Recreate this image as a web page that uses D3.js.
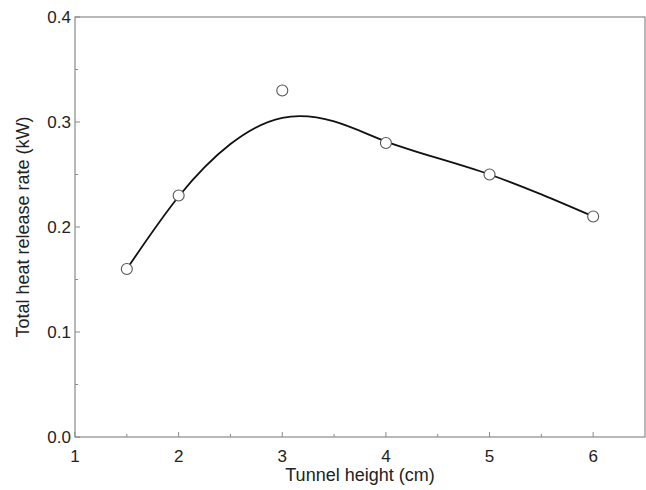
<!DOCTYPE html>
<html>
<head>
<meta charset="utf-8">
<script src="https://cdn.jsdelivr.net/npm/d3@7"></script>
<style>
  body { margin: 0; background: #fff; }
  svg { font-family: "Liberation Sans", Arial, sans-serif; }
</style>
</head>
<body>
<svg id="chart" width="646" height="490"></svg>
<script>
// measured points
const heights = [1.5, 2, 3, 4, 5, 6];
const hrr = [0.16, 0.23, 0.33, 0.28, 0.25, 0.21];

// fitted curve
const fitX = [1.5, 2.0, 2.5, 3.0, 3.5, 4.0, 4.5, 5.0, 5.5, 6.0];
const fitY = [0.160, 0.229, 0.279, 0.304, 0.3005, 0.2815, 0.2655, 0.250, 0.231, 0.210];

const xTicks = [1, 2, 3, 4, 5, 6];
const yTicks = [0.0, 0.1, 0.2, 0.3, 0.4];

const svg = d3.select('#chart');
const m = { left: 75, right: 645, top: 17, bottom: 437 };

const x = d3.scaleLinear().domain([1, 6.5]).range([m.left, m.right]);
const y = d3.scaleLinear().domain([0, 0.4]).range([m.bottom, m.top]);

const axisCol = '#8a8a8a';

// frame
svg.append('rect')
  .attr('x', m.left).attr('y', m.top)
  .attr('width', m.right - m.left).attr('height', m.bottom - m.top)
  .attr('fill', 'none').attr('stroke', axisCol).attr('stroke-width', 1.2);

// x ticks
const xMinor = d3.range(1.5, 6.5, 1);
svg.selectAll('.xt').data(xTicks).join('line')
  .attr('x1', d => x(d)).attr('x2', d => x(d))
  .attr('y1', m.bottom).attr('y2', m.bottom - 5)
  .attr('stroke', axisCol);
svg.selectAll('.xm').data(xMinor).join('line')
  .attr('x1', d => x(d)).attr('x2', d => x(d))
  .attr('y1', m.bottom).attr('y2', m.bottom - 3)
  .attr('stroke', axisCol);
svg.selectAll('.xl').data(xTicks).join('text')
  .attr('x', d => x(d)).attr('y', m.bottom + 25)
  .attr('text-anchor', 'middle').attr('font-size', 17).attr('fill', '#222')
  .text(d => d);

// y ticks
const yMinor = [0.05, 0.15, 0.25, 0.35];
svg.selectAll('.yt').data(yTicks).join('line')
  .attr('x1', m.left).attr('x2', m.left + 5)
  .attr('y1', d => y(d)).attr('y2', d => y(d))
  .attr('stroke', axisCol);
svg.selectAll('.ym').data(yMinor).join('line')
  .attr('x1', m.left).attr('x2', m.left + 3)
  .attr('y1', d => y(d)).attr('y2', d => y(d))
  .attr('stroke', axisCol);
svg.selectAll('.yl').data(yTicks).join('text')
  .attr('x', m.left - 4).attr('y', d => y(d) + 6)
  .attr('text-anchor', 'end').attr('font-size', 17).attr('fill', '#222')
  .text(d => d.toFixed(1));

// titles
svg.append('text')
  .attr('x', (m.left + m.right) / 2).attr('y', 481)
  .attr('text-anchor', 'middle').attr('font-size', 18).attr('fill', '#222')
  .text('Tunnel height (cm)');
svg.append('text')
  .attr('transform', `translate(29,${(m.top + m.bottom) / 2}) rotate(-90)`)
  .attr('text-anchor', 'middle').attr('font-size', 18).attr('fill', '#222')
  .text('Total heat release rate (kW)');

// fitted curve
const fit = fitX.map((d, i) => [d, fitY[i]]);
svg.append('path')
  .datum(fit)
  .attr('d', d3.line().x(d => x(d[0])).y(d => y(d[1])).curve(d3.curveNatural))
  .attr('fill', 'none').attr('stroke', '#111').attr('stroke-width', 1.8);

// points
svg.selectAll('.pt').data(heights.map((d, i) => [d, hrr[i]])).join('circle')
  .attr('cx', d => x(d[0])).attr('cy', d => y(d[1])).attr('r', 5.5)
  .attr('fill', '#fff').attr('stroke', '#555').attr('stroke-width', 1.1);
</script>
</body>
</html>
